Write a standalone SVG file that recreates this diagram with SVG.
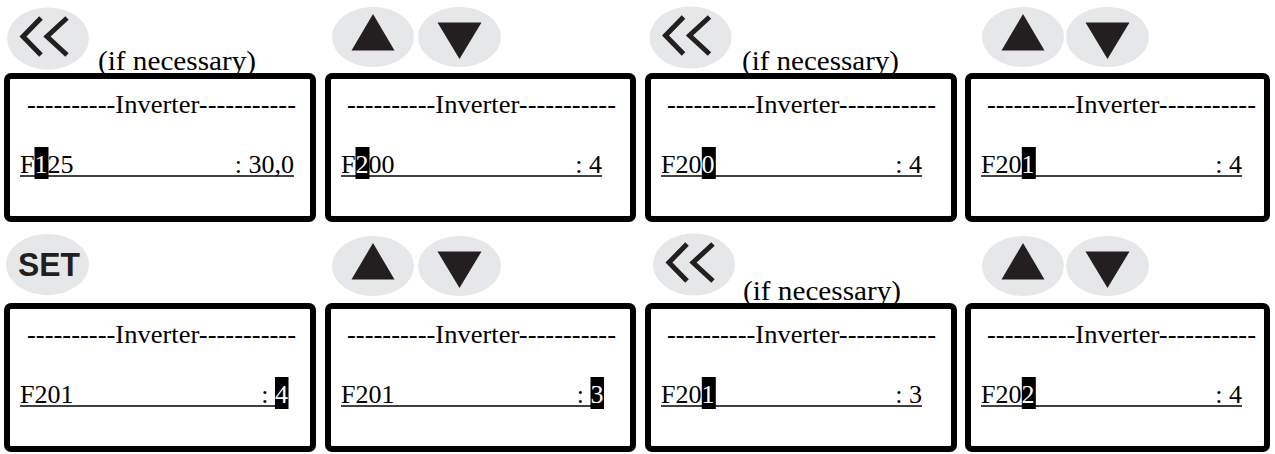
<svg xmlns="http://www.w3.org/2000/svg" xmlns:xlink="http://www.w3.org/1999/xlink" width="1275" height="454" viewBox="0 0 1275 454">
<style>
.panel{fill:#fff;stroke:#000;stroke-width:6}
.btn{fill:#e6e7e8}
.hdr,.row,.note{font-family:'Liberation Serif','DejaVu Serif',serif;font-size:26px;fill:#000}
.note{font-size:27px}
.hl{fill:#fff}
.hlbox{fill:#000}
.ul{stroke:#000;stroke-width:1.4}
.set{font-family:'Liberation Sans',Arial,sans-serif;font-size:33px;font-weight:bold;fill:#231f20}
.chev{fill:none;stroke:#231f20;stroke-width:5}
.tri{fill:#231f20}
</style>
<defs>
<g id="btnChev"><ellipse class="btn" cx="0" cy="0" rx="41" ry="31"/><path class="chev" d="M-7,-20.5 L-25,-2 L-7,16.5 M19,-20.5 L-1,-2 L19,16.5"/></g>
<g id="btnUp"><ellipse class="btn" cx="0" cy="0" rx="41" ry="30"/><polygon class="tri" points="0,-23 -21.5,13.5 21.5,13.5"/></g>
<g id="btnDown"><ellipse class="btn" cx="0" cy="0" rx="41.5" ry="30"/><polygon class="tri" points="-22,-14.5 22,-14.5 0,22"/></g>
</defs>
<g id="connectors"/>

<g id="step1">
<use xlink:href="#btnChev" x="48" y="38.5"/>
<text class="note" font-family="Liberation Serif, serif" x="98" y="70" textLength="158" lengthAdjust="spacingAndGlyphs">(if necessary)</text>
<rect class="panel" x="7" y="76" width="306" height="143" rx="4"/>
<text class="hdr" font-family="Liberation Serif, serif" x="27" y="113" textLength="269" lengthAdjust="spacingAndGlyphs">----------Inverter-----------</text>
<rect class="hlbox" x="34.5" y="147" width="14" height="32"/>
<text class="row" font-family="Liberation Serif, serif" x="20" y="173">F<tspan class="hl">1</tspan>25</text>
<text class="row" font-family="Liberation Serif, serif" x="294" y="173" text-anchor="end">: 30,0</text>
<line class="ul" x1="20" y1="176" x2="294" y2="176"/>
</g>

<g id="step2">
<use xlink:href="#btnUp" x="373" y="37"/>
<use xlink:href="#btnDown" x="459.5" y="37"/>
<rect class="panel" x="328" y="76" width="305" height="143" rx="4"/>
<text class="hdr" font-family="Liberation Serif, serif" x="347" y="113" textLength="269" lengthAdjust="spacingAndGlyphs">----------Inverter-----------</text>
<rect class="hlbox" x="355.5" y="147" width="14" height="32"/>
<text class="row" font-family="Liberation Serif, serif" x="341" y="173">F<tspan class="hl">2</tspan>00</text>
<text class="row" font-family="Liberation Serif, serif" x="602" y="173" text-anchor="end">: 4</text>
<line class="ul" x1="341" y1="176" x2="602" y2="176"/>
</g>

<g id="step3">
<use xlink:href="#btnChev" x="690.5" y="37.5"/>
<text class="note" font-family="Liberation Serif, serif" x="742" y="70" textLength="157" lengthAdjust="spacingAndGlyphs">(if necessary)</text>
<rect class="panel" x="648" y="76" width="306" height="143" rx="4"/>
<text class="hdr" font-family="Liberation Serif, serif" x="667" y="113" textLength="269" lengthAdjust="spacingAndGlyphs">----------Inverter-----------</text>
<rect class="hlbox" x="701.8" y="147" width="14" height="32"/>
<text class="row" font-family="Liberation Serif, serif" x="661" y="173">F20<tspan class="hl">0</tspan></text>
<text class="row" font-family="Liberation Serif, serif" x="922" y="173" text-anchor="end">: 4</text>
<line class="ul" x1="661" y1="176" x2="922" y2="176"/>
</g>

<g id="step4">
<use xlink:href="#btnUp" x="1023" y="37"/>
<use xlink:href="#btnDown" x="1107.5" y="37"/>
<rect class="panel" x="968" y="76" width="299" height="143" rx="4"/>
<text class="hdr" font-family="Liberation Serif, serif" x="987" y="113" textLength="269" lengthAdjust="spacingAndGlyphs">----------Inverter-----------</text>
<rect class="hlbox" x="1021.8" y="147" width="14" height="32"/>
<text class="row" font-family="Liberation Serif, serif" x="981" y="173">F20<tspan class="hl">1</tspan></text>
<text class="row" font-family="Liberation Serif, serif" x="1242" y="173" text-anchor="end">: 4</text>
<line class="ul" x1="981" y1="176" x2="1242" y2="176"/>
</g>

<g id="step5">
<ellipse class="btn" cx="47.5" cy="264.5" rx="41.5" ry="30.5"/>
<text class="set" x="18" y="276" textLength="62" lengthAdjust="spacingAndGlyphs">SET</text>
<rect class="panel" x="7" y="306" width="306" height="143" rx="4"/>
<text class="hdr" font-family="Liberation Serif, serif" x="27" y="343" textLength="269" lengthAdjust="spacingAndGlyphs">----------Inverter-----------</text>
<rect class="hlbox" x="275" y="377" width="13.5" height="32"/>
<text class="row" font-family="Liberation Serif, serif" x="20" y="403">F201</text>
<text class="row" font-family="Liberation Serif, serif" x="288" y="403" text-anchor="end">: <tspan class="hl">4</tspan></text>
<line class="ul" x1="20" y1="406" x2="288" y2="406"/>
</g>

<g id="step6">
<use xlink:href="#btnUp" x="373" y="266"/>
<use xlink:href="#btnDown" x="459.5" y="266"/>
<rect class="panel" x="328" y="306" width="305" height="143" rx="4"/>
<text class="hdr" font-family="Liberation Serif, serif" x="347" y="343" textLength="269" lengthAdjust="spacingAndGlyphs">----------Inverter-----------</text>
<rect class="hlbox" x="590.5" y="377" width="13.5" height="32"/>
<text class="row" font-family="Liberation Serif, serif" x="341" y="403">F201</text>
<text class="row" font-family="Liberation Serif, serif" x="603.5" y="403" text-anchor="end">: <tspan class="hl">3</tspan></text>
<line class="ul" x1="341" y1="406" x2="603" y2="406"/>
</g>

<g id="step7">
<use xlink:href="#btnChev" x="694" y="264.5"/>
<text class="note" font-family="Liberation Serif, serif" x="743" y="300" textLength="158" lengthAdjust="spacingAndGlyphs">(if necessary)</text>
<rect class="panel" x="648" y="306" width="306" height="143" rx="4"/>
<text class="hdr" font-family="Liberation Serif, serif" x="667" y="343" textLength="269" lengthAdjust="spacingAndGlyphs">----------Inverter-----------</text>
<rect class="hlbox" x="701.8" y="377" width="14" height="32"/>
<text class="row" font-family="Liberation Serif, serif" x="661" y="403">F20<tspan class="hl">1</tspan></text>
<text class="row" font-family="Liberation Serif, serif" x="922" y="403" text-anchor="end">: 3</text>
<line class="ul" x1="661" y1="406" x2="922" y2="406"/>
</g>

<g id="step8">
<use xlink:href="#btnUp" x="1023" y="266"/>
<use xlink:href="#btnDown" x="1107.5" y="266"/>
<rect class="panel" x="968" y="306" width="299" height="143" rx="4"/>
<text class="hdr" font-family="Liberation Serif, serif" x="987" y="343" textLength="269" lengthAdjust="spacingAndGlyphs">----------Inverter-----------</text>
<rect class="hlbox" x="1021.8" y="377" width="14" height="32"/>
<text class="row" font-family="Liberation Serif, serif" x="981" y="403">F20<tspan class="hl">2</tspan></text>
<text class="row" font-family="Liberation Serif, serif" x="1242" y="403" text-anchor="end">: 4</text>
<line class="ul" x1="981" y1="406" x2="1242" y2="406"/>
</g>
</svg>
